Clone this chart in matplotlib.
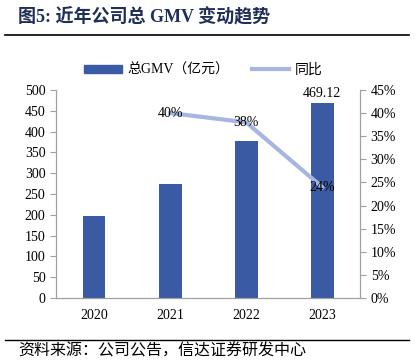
import matplotlib
matplotlib.use("Agg")
import matplotlib.pyplot as plt
import matplotlib.lines as mlines
import matplotlib.patches as mpatches
import numpy as np

# ── Data ──────────────────────────────────────────────────────────────────────
years      = ["2020", "2021", "2022", "2023"]
gmv        = [197, 275, 378, 469.12]          # 亿元
yoy_years  = ["2021", "2022", "2023"]
yoy        = [0.40, 0.38, 0.24]
yoy_labels = ["40%", "38%", "24%"]

BAR_COLOR  = "#3A5BA3"
LINE_COLOR = "#A7B6E0"
SPINE      = "#A0A0A0"
FONT       = ["Liberation Serif", "Noto Sans CJK SC"]

plt.rcParams["font.family"] = FONT

fig = plt.figure(figsize=(4.15, 3.64), dpi=100)
ax = fig.add_axes([0.135, 0.181, 0.733, 0.572])
ax2 = ax.twinx()

x = np.arange(len(years))
ax.bar(x, gmv, width=0.3, color=BAR_COLOR, zorder=2)
ax.set_ylim(0, 500)
ax.set_yticks(np.arange(0, 501, 50))
ax.set_xlim(-0.5, len(years) - 0.5)
ax.set_xticks(x)
ax.set_xticklabels(years)

xi = [years.index(y) for y in yoy_years]
ax2.plot(xi, yoy, color=LINE_COLOR, lw=3, zorder=3)
ax2.set_ylim(0, 0.45)
ax2.set_yticks(np.arange(0, 0.451, 0.05))
ax2.set_yticklabels([f"{int(round(v * 100))}%" for v in np.arange(0, 0.451, 0.05)])

for xx, v, lab in zip(xi, yoy, yoy_labels):
    ax2.text(xx, v, lab, ha="center", va="center", fontsize=10, color="black", zorder=4)

ax.text(x[-1], gmv[-1] + 6, f"{gmv[-1]:.2f}", ha="center", va="bottom", fontsize=10)

for a in (ax, ax2):
    a.spines["top"].set_visible(False)
    for s in ("left", "right", "bottom"):
        a.spines[s].set_color(SPINE)
        a.spines[s].set_linewidth(0.8)
    a.tick_params(labelsize=10, colors="black", length=4, width=0.8)
    a.tick_params(axis="y", color=SPINE)
ax.tick_params(axis="x", length=0, pad=8)
ax2.tick_params(axis="x", length=0)

# legend
bar_h = mpatches.Patch(color=BAR_COLOR)
line_h = mlines.Line2D([], [], color=LINE_COLOR, lw=3)
fig.legend([bar_h, line_h], ["总GMV（亿元）", "同比"], loc="center",
           bbox_to_anchor=(0.49, 0.807), ncol=2, frameon=False, fontsize=10,
           handlelength=2.7, handleheight=0.5, columnspacing=1.6, handletextpad=0.4)

# title + rules
fig.text(0.043, 0.952, "图5: 近年公司总 GMV 变动趋势", ha="left", va="center",
         fontsize=13, fontweight="bold", color="#1F2F55")
fig.add_artist(mlines.Line2D([0.012, 0.985], [0.903, 0.903], color="black", lw=1.2))
fig.add_artist(mlines.Line2D([0.012, 0.985], [0.066, 0.066], color="black", lw=1.0))
fig.text(0.043, 0.033, "资料来源：公司公告，信达证券研发中心", ha="left", va="center",
         fontsize=11.5, color="black")

fig.savefig("out.png", dpi=100)
